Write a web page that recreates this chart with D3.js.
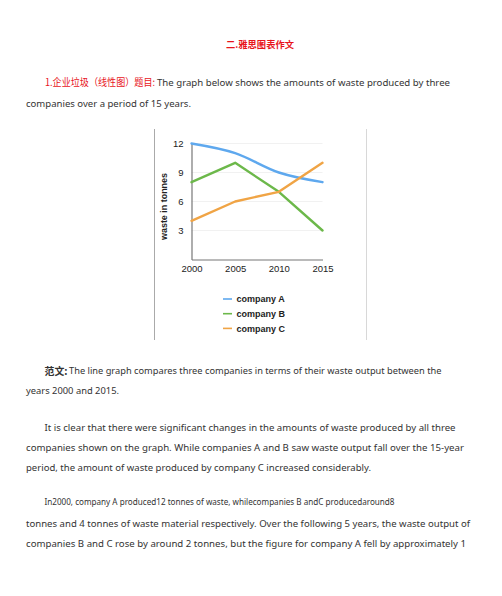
<!DOCTYPE html>
<html>
<head>
<meta charset="utf-8">
<script src="https://cdn.jsdelivr.net/npm/d3@7"></script>
<style>
  html, body { margin: 0; padding: 0; background: #fff; }
  svg { display: block; }
</style>
</head>
<body>
<div id="page"></div>
<script>
// chart data
var years = [2000, 2005, 2010, 2015];
var companyA = [12, 11, 9, 8];
var companyB = [8, 10, 7, 3];
var companyC = [4, 6, 7, 10];
var seriesNames = ["company A", "company B", "company C"];
var yTicks = [3, 6, 9, 12];

var width = 502, height = 596;

var svg = d3.select("#page").append("svg")
    .attr("width", width)
    .attr("height", height);

svg.append("rect").attr("width", width).attr("height", height).attr("fill", "#fff");

// page text
var latin = "'Noto Sans', 'Open Sans', sans-serif",
    cjk = "'Noto Sans CJK SC', sans-serif",
    red = "#e8141b",
    ink = "#333";

function textLine(x, y, str, len, opts) {
  opts = opts || {};
  svg.append("text")
      .attr("x", x)
      .attr("y", y)
      .attr("dy", "0.35em")
      .attr("textLength", len)
      .attr("lengthAdjust", "spacingAndGlyphs")
      .style("font-family", opts.font || latin)
      .style("font-size", (opts.size || 9.6) + "px")
      .style("font-weight", opts.bold ? "bold" : "normal")
      .attr("fill", opts.color || ink)
      .text(str);
}

textLine(226, 44.7, "二.雅思图表作文", 68, {font: cjk, bold: true, color: red, size: 9.5});

textLine(45, 82.7, "1.企业垃圾（线性图）题目:", 110, {font: cjk, color: red, size: 10});
textLine(157, 82.7, "The graph below shows the amounts of waste produced by three", 293);
textLine(26, 103.3, "companies over a period of 15 years.", 165);

textLine(44.5, 371, "范文:", 23, {font: cjk, bold: true, size: 10});
textLine(69, 371, "The line graph compares three companies in terms of their waste output between the", 372.5);
textLine(26, 390.7, "years 2000 and 2015.", 93);

textLine(44.5, 427.3, "It is clear that there were significant changes in the amounts of waste produced by all three", 411);
textLine(26, 447.3, "companies shown on the graph. While companies A and B saw waste output fall over the 15-year", 438);
textLine(26, 467.3, "period, the amount of waste produced by company C increased considerably.", 345);

textLine(44.5, 502, "In2000, company A produced12 tonnes of waste, whilecompanies B andC producedaround8", 350, {size: 9.2});
textLine(26, 523.3, "tonnes and 4 tonnes of waste material respectively. Over the following 5 years, the waste output of", 444);
textLine(26, 543.3, "companies B and C rose by around 2 tonnes, but the figure for company A fell by approximately 1", 440);

// chart picture frame
svg.append("line").attr("x1", 154.5).attr("x2", 154.5).attr("y1", 129).attr("y2", 340)
    .attr("stroke", "#aaa").attr("stroke-width", 1);
svg.append("line").attr("x1", 366.5).attr("x2", 366.5).attr("y1", 129).attr("y2", 340)
    .attr("stroke", "#d8d8d8").attr("stroke-width", 1);

// chart
var chartFont = "'Liberation Sans', Arial, sans-serif";

var x = d3.scaleLinear().domain([2000, 2015]).range([191.5, 322.5]);
var y = d3.scaleLinear().domain([0, 12]).range([259.5, 143.5]);

var g = svg.append("g");

// faint gridlines
g.selectAll(".grid")
    .data(yTicks)
  .enter().append("line")
    .attr("class", "grid")
    .attr("x1", x(2000)).attr("x2", x(2015))
    .attr("y1", function(d) { return y(d); })
    .attr("y2", function(d) { return y(d); })
    .attr("stroke", "#f1f1f1")
    .attr("stroke-width", 1);

var yAxis = d3.axisLeft(y).tickValues(yTicks).tickSize(0).tickPadding(8);
var xAxis = d3.axisBottom(x).tickValues(years).tickFormat(d3.format("d")).tickSize(0).tickPadding(6);

var gy = g.append("g").attr("transform", "translate(" + x(2000) + ",0)").call(yAxis);
var gx = g.append("g").attr("transform", "translate(0," + y(0) + ")").call(xAxis);

[gx, gy].forEach(function(ax) {
  ax.select(".domain").attr("stroke", "#777").attr("stroke-width", 1.2);
  ax.selectAll("text")
      .style("font-family", chartFont)
      .style("font-size", "9.5px")
      .attr("fill", "#222");
});

g.append("text")
    .attr("transform", "translate(163.5,206.5) rotate(-90)")
    .attr("text-anchor", "middle")
    .attr("dy", "0.35em")
    .attr("textLength", 67)
    .attr("lengthAdjust", "spacingAndGlyphs")
    .style("font-family", chartFont)
    .style("font-size", "9px")
    .style("font-weight", "bold")
    .attr("fill", "#222")
    .text("waste in tonnes");

var series = [
  {name: seriesNames[0], values: companyA, color: "#5ea8ee", curve: d3.curveMonotoneX},
  {name: seriesNames[1], values: companyB, color: "#6cb84a", curve: d3.curveLinear},
  {name: seriesNames[2], values: companyC, color: "#f0a445", curve: d3.curveLinear}
];

series.forEach(function(s) {
  var line = d3.line()
      .x(function(d, i) { return x(years[i]); })
      .y(function(d) { return y(d); })
      .curve(s.curve);
  g.append("path")
      .datum(s.values)
      .attr("fill", "none")
      .attr("stroke", s.color)
      .attr("stroke-width", 2.4)
      .attr("stroke-linejoin", "round")
      .attr("stroke-linecap", "round")
      .attr("d", line);
});

// legend
var legend = g.selectAll(".legend")
    .data(series)
  .enter().append("g")
    .attr("class", "legend")
    .attr("transform", function(d, i) { return "translate(223," + (299 + i * 14.7) + ")"; });

legend.append("line")
    .attr("x1", 0).attr("x2", 9)
    .attr("stroke", function(d) { return d.color; })
    .attr("stroke-width", 1.6);

legend.append("text")
    .attr("x", 13.5)
    .attr("dy", "0.35em")
    .style("font-family", chartFont)
    .style("font-size", "9px")
    .style("font-weight", "bold")
    .attr("fill", "#222")
    .text(function(d) { return d.name; });
</script>
</body>
</html>
